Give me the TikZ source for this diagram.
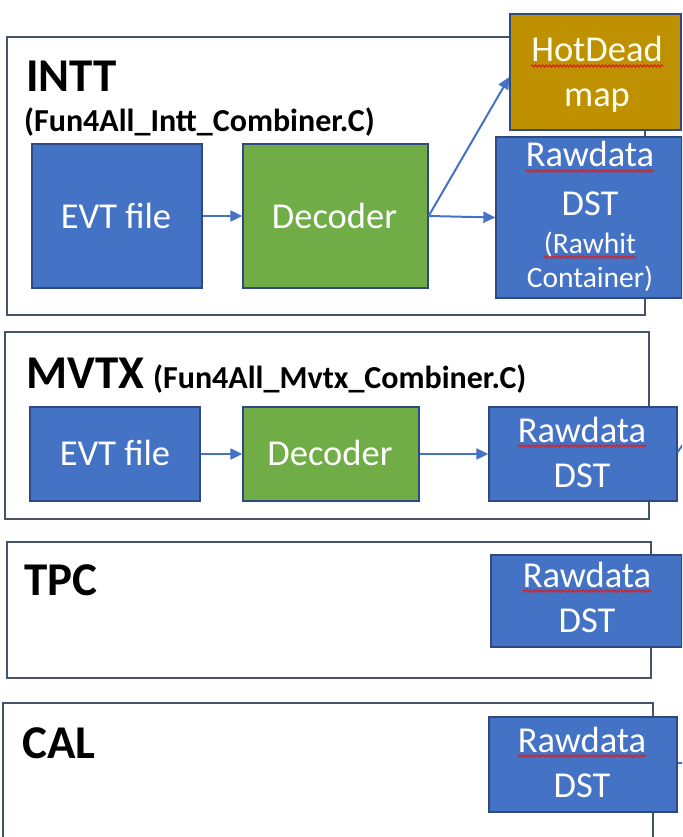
\documentclass[tikz,border=0pt]{standalone}
\usepackage{fontspec}
\setmainfont{Carlito}
\usetikzlibrary{arrows.meta,decorations.pathmorphing}
\definecolor{frameC}{HTML}{44546A}
\definecolor{blueF}{HTML}{4472C4}
\definecolor{blueD}{HTML}{2F4A80}
\definecolor{greenF}{HTML}{70AD47}
\definecolor{goldF}{HTML}{BF9000}
\definecolor{arrC}{HTML}{4472C4}
\definecolor{squigC}{HTML}{D92020}
\tikzset{
  frame/.style={draw=frameC, line width=1.5pt},
  boxbase/.style={rectangle, draw=blueD, line width=1.3pt, inner sep=0pt},
  bluebox/.style={boxbase, fill=blueF},
  greenbox/.style={boxbase, fill=greenF},
  goldbox/.style={boxbase, fill=goldF},
  wtext/.style={inner sep=0pt, anchor=base, text=white, font=\fontsize{36.5}{44}\selectfont},
  wsmall/.style={inner sep=0pt, anchor=base, text=white, font=\fontsize{29.5}{35}\selectfont},
  title/.style={inner sep=0pt, anchor=base west, font=\bfseries\fontsize{47}{56}\selectfont},
  subtitle/.style={inner sep=0pt, anchor=base west, font=\bfseries\fontsize{32}{38}\selectfont},
  flow/.style={draw=arrC, line width=2pt, -{Triangle[length=12pt,width=11pt]}},
  stub/.style={draw=arrC, line width=2pt},
  squig/.style={draw=squigC, line width=1.1pt, decorate, decoration={snake, amplitude=1.1pt, segment length=3.5pt}}
}
\begin{document}
\begin{tikzpicture}[x=1pt,y=-1pt]
\useasboundingbox (0,0) rectangle (682,837);
\clip (0,0) rectangle (682,837);
\fill[white] (0,0) rectangle (682,837);

% ---------- INTT ----------
\draw[frame] (7,37) rectangle (645,315);
\node[title] (intt) at (26,92) {INTT};
\node[subtitle] (inttf) at (24,132) {(Fun4All\_Intt\_Combiner.C)};
\node[bluebox, minimum width=170pt, minimum height=144pt] (ievt) at (117,216) {};
\node[wtext] (ievtt) at (116,228) {EVT file};
\node[greenbox, minimum width=185pt, minimum height=144pt] (idec) at (335.5,216) {};
\node[wtext] (idect) at (334.5,228) {Decoder};
\node[goldbox, minimum width=171pt, minimum height=116pt] (ihot) at (595.5,72) {};
\node[wtext, text=white!93!yellow] (ihott1) at (597,62) {HotDead};
\node[wtext, text=white!93!yellow] (ihott2) at (597,107) {map};
\node[bluebox, minimum width=186pt, minimum height=161pt] (iraw) at (589,217.5) {};
\node[wtext] (irawt1) at (590,167) {Rawdata};
\node[wtext] (irawt2) at (590,215) {DST};
\node[wsmall] (irawt3) at (590,253) {(Rawhit};
\node[wsmall] (irawt4) at (590,287) {Container)};
\draw[flow] (ievt.east) -- (idec.west);
\draw[flow] (idec.east) -- (iraw.west);
\draw[flow] (idec.east) -- ([yshift=-5pt]ihot.west);

% ---------- MVTX ----------
\draw[frame] (5,332) rectangle (649,519);
\node[title] (mvtx) at (26,388) {MVTX};
\node[subtitle] (mvtxf) at (153,388) {(Fun4All\_Mvtx\_Combiner.C)};
\node[bluebox, minimum width=170pt, minimum height=94pt] (mevt) at (115,454) {};
\node[wtext] (mevtt) at (115,465) {EVT file};
\node[greenbox, minimum width=176pt, minimum height=94pt] (mdec) at (331,454) {};
\node[wtext] (mdect) at (330,465) {Decoder};
\node[bluebox, minimum width=188pt, minimum height=94pt] (mraw) at (583,454) {};
\node[wtext] (mrawt1) at (582,442) {Rawdata};
\node[wtext] (mrawt2) at (582,487) {DST};
\coordinate (mout) at (684,443);
\draw[flow] (mevt.east) -- (mdec.west);
\draw[flow] (mdec.east) -- (mraw.west);
\draw[stub] ([yshift=2pt]mraw.east) -- (mout);

% ---------- TPC ----------
\draw[frame] (7,542) rectangle (651,678);
\node[title] (tpc) at (24,595) {TPC};
\node[bluebox, minimum width=191pt, minimum height=92pt] (traw) at (586.5,601) {};
\node[wtext] (trawt1) at (587,587) {Rawdata};
\node[wtext] (trawt2) at (587,632) {DST};

% ---------- CAL ----------
\draw[frame] (3,703) rectangle (653,842);
\node[title] (cal) at (22,758) {CAL};
\node[bluebox, minimum width=188pt, minimum height=95pt] (craw) at (583,764.5) {};
\node[wtext] (crawt1) at (582,752) {Rawdata};
\node[wtext] (crawt2) at (582,797) {DST};
\coordinate (cout) at (684,763);
\draw[stub] ([yshift=1.5pt]craw.east) -- (cout);

% ---------- spell-check squiggles ----------
\foreach \t in {ihott1,irawt1,irawt3,mrawt1,trawt1,crawt1}{
  \draw[squig] ([yshift=-4pt]\t.base west) -- ([yshift=-4pt]\t.base east);
}
\end{tikzpicture}
\end{document}
